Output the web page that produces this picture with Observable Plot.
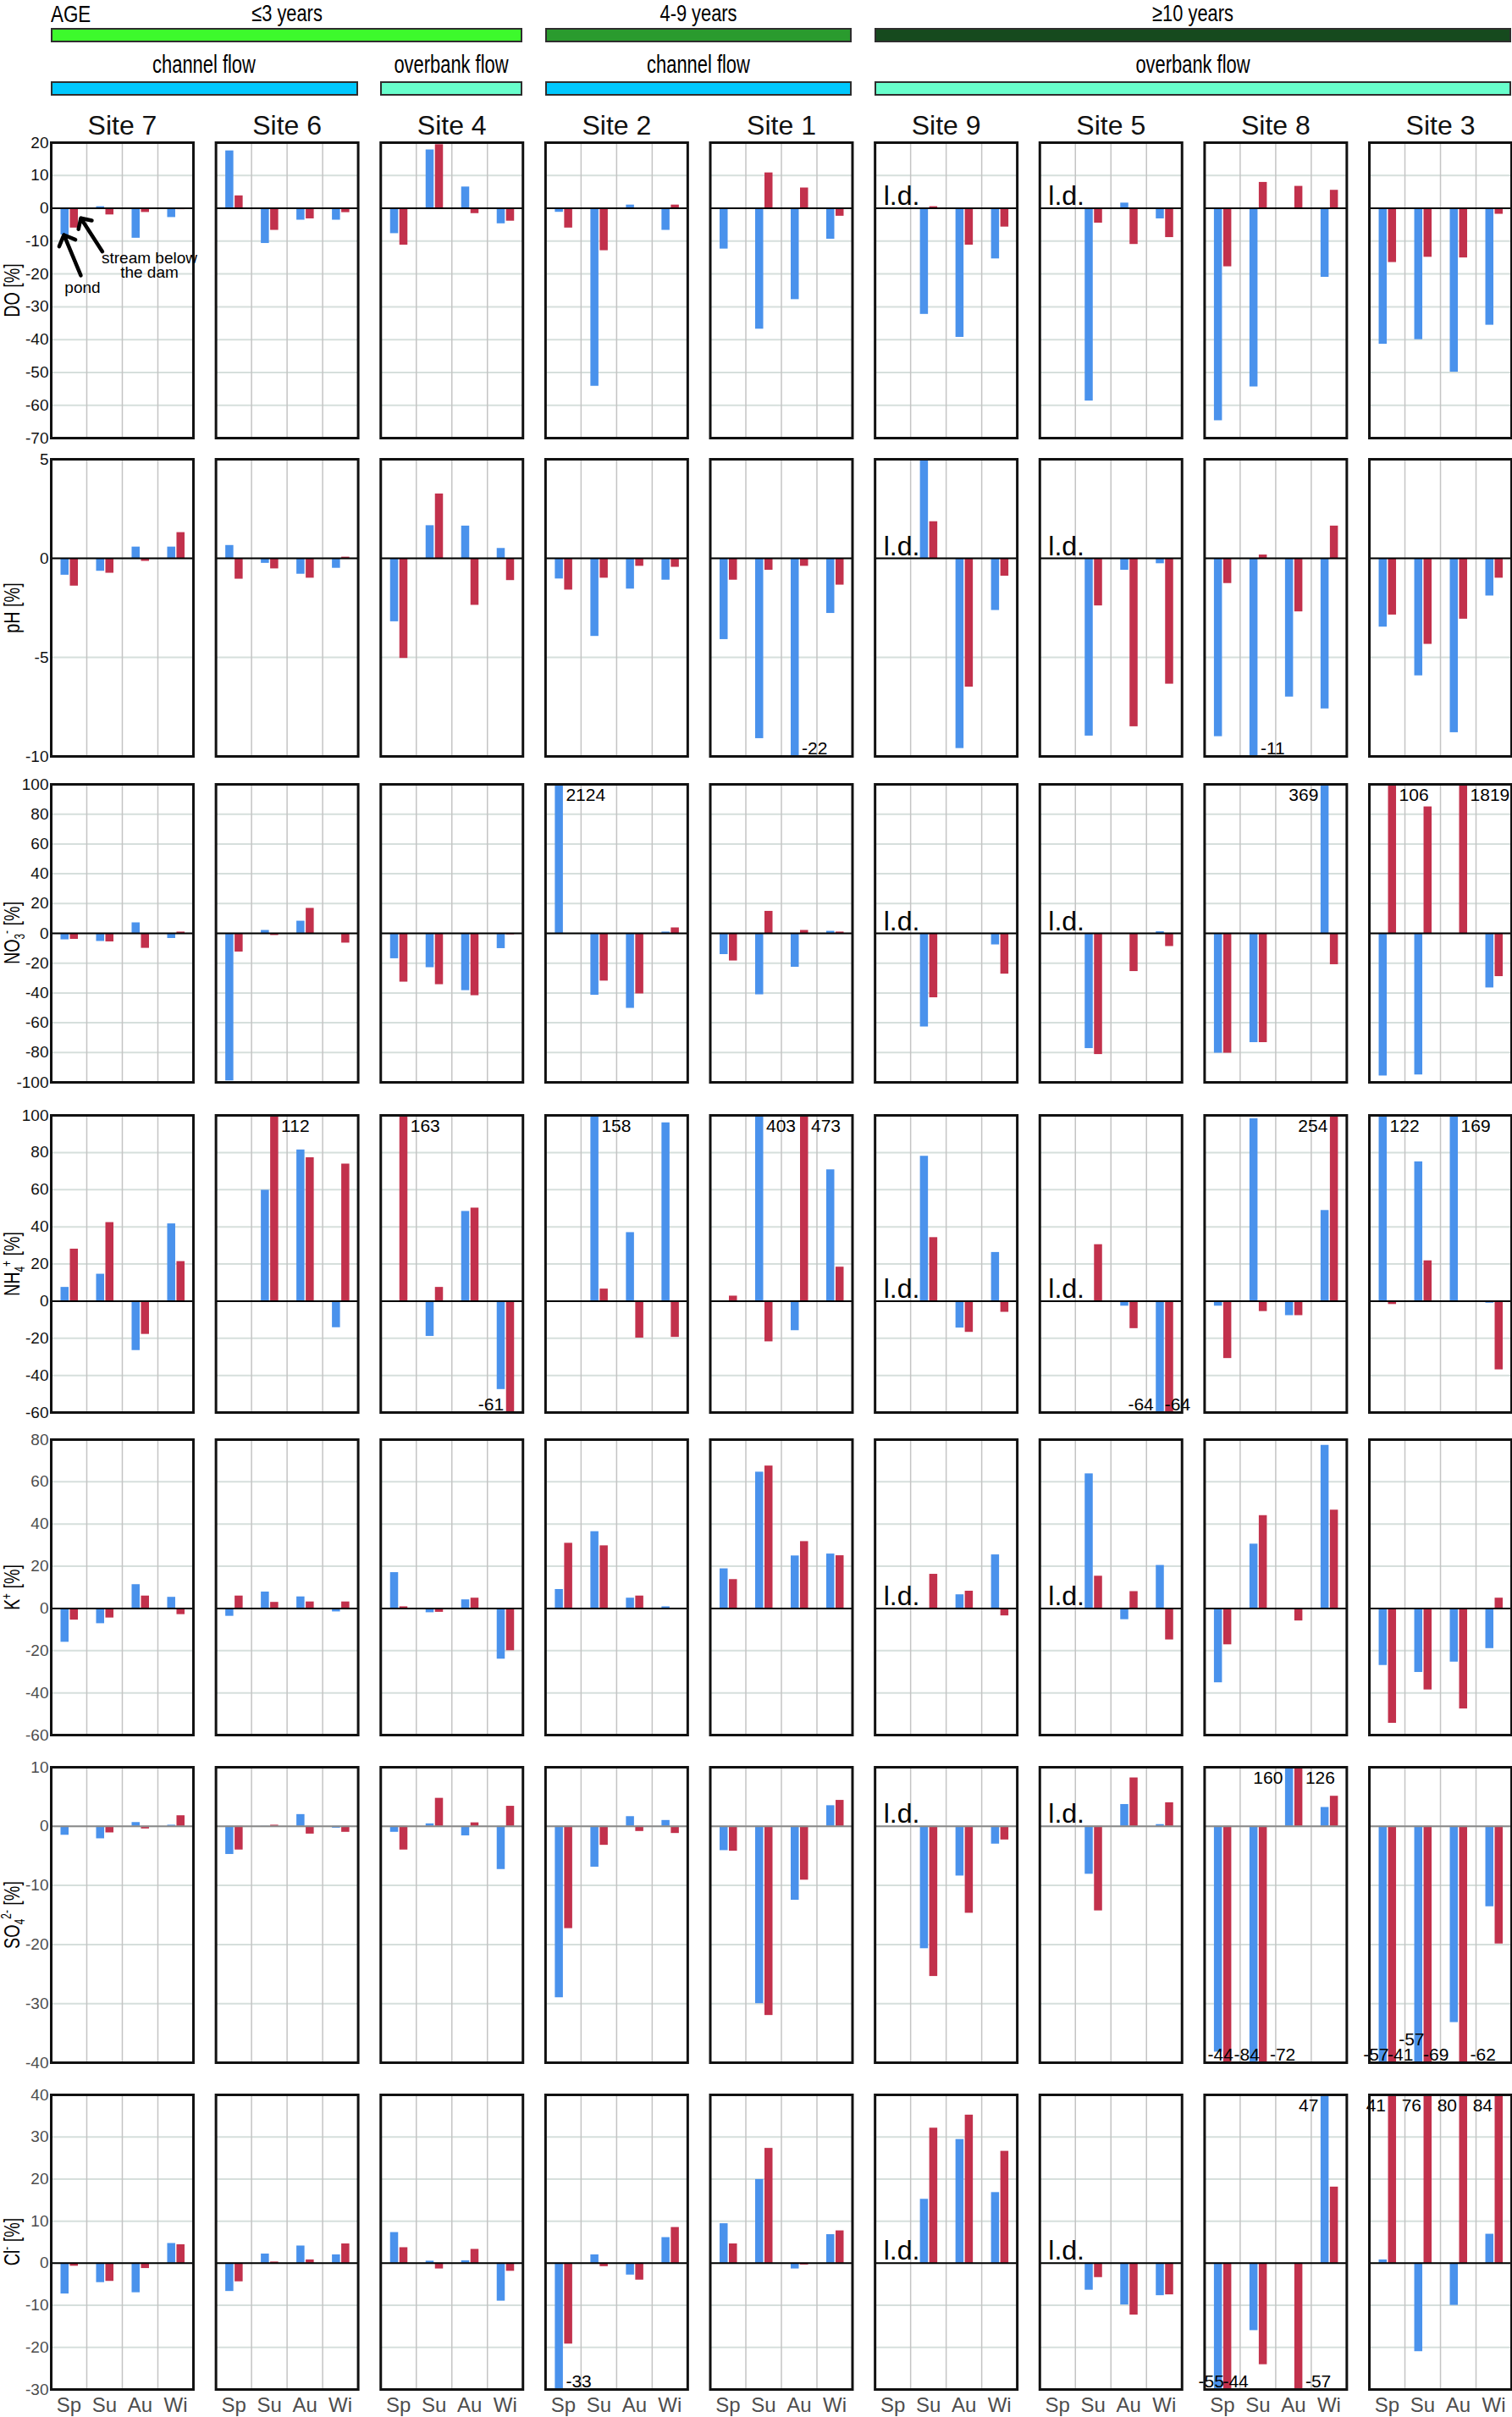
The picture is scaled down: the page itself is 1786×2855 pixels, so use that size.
<!DOCTYPE html>
<html><head><meta charset="utf-8">
<script src="https://cdn.jsdelivr.net/npm/d3@7"></script>
<script src="https://cdn.jsdelivr.net/npm/@observablehq/plot@0.6"></script>
<style>
html,body{margin:0;padding:0;background:#fff;}
#page{position:relative;width:1786px;height:2855px;font-family:"Liberation Sans",Arial,sans-serif;color:#000;overflow:hidden;}
.hdr{position:absolute;white-space:nowrap;line-height:1;}
.hbar{position:absolute;box-sizing:border-box;border:2.5px solid #2e2e2e;}
.ylab{position:absolute;white-space:nowrap;font-size:26px;line-height:1;transform:translate(-50%,-50%) rotate(-90deg) scaleX(0.76);}
.ylab sub,.ylab sup{font-size:0.6em;line-height:0;}
.row{position:absolute;left:0;}
</style></head><body><div id="page"></div>
<script>
// ---------- categories ----------
const sites = ["Site 7","Site 6","Site 4","Site 2","Site 1","Site 9","Site 5","Site 8","Site 3"];
const seasons = ["Sp","Su","Au","Wi"];
const ldSites = ["Site 9","Site 5"];
const ageGroups = [
  {label:"≤3 years", from:"Site 7", to:"Site 4", color:"#3dfa2c"},
  {label:"4-9 years", from:"Site 2", to:"Site 1", color:"#2a9b2e"},
  {label:"≥10 years", from:"Site 9", to:"Site 3", color:"#164a1e"}
];
const flowGroups = [
  {label:"channel flow", from:"Site 7", to:"Site 6", color:"#00c8fe"},
  {label:"overbank flow", from:"Site 4", to:"Site 4", color:"#68ffcc"},
  {label:"channel flow", from:"Site 2", to:"Site 1", color:"#00c8fe"},
  {label:"overbank flow", from:"Site 9", to:"Site 3", color:"#68ffcc"}
];

// ---------- values: one [Sp,Su,Au,Wi] list per site, pond (blue) and stream below the dam (red) ----------
const doPond = [[-8.1,0.5,-9.1,-2.8],[17.5,-10.7,-3.6,-3.6],[-7.7,17.8,6.5,-4.7],[-1.2,-54.2,1,-6.7],[-12.4,-36.8,-27.8,-9.4],[null,-32.3,-39.3,-15.4],[null,-58.7,1.6,-3.2],[-64.7,-54.4,null,-21],[-41.4,-40,-49.9,-35.6]];
const doStream = [[-6,-2,-1.25,-0.4],[3.8,-6.7,-3.2,-1.3],[-11.2,19.4,-1.6,-3.9],[-6,-12.9,-0.3,1],[-0.3,10.8,6.2,-2.4],[null,0.5,-11.2,-5.7],[null,-4.5,-11,-8.9],[-17.8,7.9,6.7,5.5],[-16.5,-14.9,-15.1,-1.8]];
const phPond = [[-0.85,-0.65,0.57,0.57],[0.65,-0.25,-0.8,-0.5],[-3.2,1.65,1.63,0.5],[-1.04,-3.94,-1.55,-1.1],[-4.1,-9.1,-22,-2.78],[null,5,-9.6,-2.63],[null,-8.97,-0.6,-0.27],[-9.0,-11,-7.0,-7.6],[-3.47,-5.93,-8.8,-1.9]];
const phStream = [[-1.4,-0.75,-0.15,1.3],[-1.05,-0.53,-1.0,0.06],[-5.05,3.25,-2.37,-1.12],[-1.6,-1.0,-0.4,-0.45],[-1.1,-0.6,-0.4,-1.35],[null,1.85,-6.5,-0.9],[null,-2.4,-8.5,-6.35],[-1.27,0.17,-2.7,1.63],[-2.86,-4.34,-3.07,-1.0]];
const no3Pond = [[-4.3,-5.4,7.1,-3.4],[-99,2,8.2,null],[-17,-23,-38.4,-10.2],[2124,-41.5,-50.3,0.9],[-14.2,-41.2,-22.7,1.4],[null,-62.8,null,-7.7],[null,-77.3,-0.5,1.1],[-80.4,-73.3,null,369],[-95.7,-95,null,-36.6]];
const no3Stream = [[-4,-5.7,-10,0.9],[-12.5,-1.4,16.8,-6.5],[-32.7,-34.4,-41.8,-0.9],[null,-32,-40.6,3.7],[-18.5,14.8,2,0.9],[null,-43.2,null,-27.3],[null,-81.3,-25.6,-8.8],[-80.4,-73.3,null,-21],[106,84.9,1819,-29]];
const nh4Pond = [[7.4,14.5,-26.6,41.6],[null,59.7,81.4,-14.3],[null,-19,48.3,-47.6],[null,158,36.9,96],[null,403,-15.9,70.7],[null,78,-14.5,26.2],[null,null,-2.7,-64],[-2.7,98.2,-7.8,48.8],[122,75,169,-1.1]];
const nh4Stream = [[28,42.3,-17.9,21.3],[null,112,77.2,73.8],[163,7.4,50.1,-61],[null,6.5,-19.9,-19.5],[2.7,-21.9,473,18.3],[null,34.2,-16.8,-6],[null,30.4,-14.8,-64],[-30.9,-5.6,-7.8,254],[-1.8,21.7,null,-37]];
const kPond = [[-16,-7.2,11.3,5.3],[-3.7,7.8,5.5,-1.6],[17,-2,4.1,-24],[9,36.4,4.9,0.8],[18.8,64.6,24.9,25.8],[null,null,6.5,25.4],[null,63.8,-5.3,20.4],[-35.2,30.5,null,77.3],[-27,-30.3,-25.4,-19]];
const kStream = [[-5.5,-4.5,5.9,-2.9],[5.9,2.9,3.1,3.1],[0.8,-1.8,4.9,-20],[30.9,29.7,5.9,-0.6],[13.7,67.5,31.7,25],[null,16.2,8.2,-3.5],[null,15.3,8,-14.9],[-17.2,44,-5.9,46.6],[-54.4,-38.6,-47.6,4.9]];
const so4Pond = [[-1.5,-2.1,0.65,0.2],[-4.75,-0.1,2,-0.3],[-1,0.43,-1.6,-7.3],[-29,-6.9,1.65,1],[-4.1,-30,-12.5,3.5],[null,-20.7,-8.4,-3],[null,-8.1,3.7,0.3],[-38.2,-84,160,3.2],[-57,-57,-33.2,-13.6]];
const so4Stream = [[null,-1.1,-0.43,1.8],[-4,0.2,-1.3,-1],[-4,4.75,0.6,3.4],[-17.3,-3.2,-0.86,-1.2],[-4.2,-32,-9.1,4.4],[null,-25.4,-14.7,-2.3],[null,-14.3,8.2,4],[-44,-72,126,5.1],[-41,-69,-62,-19.9]];
const clPond = [[-7.3,-4.6,-7,4.7],[-6.7,2.2,4.1,2],[7.3,0.5,0.6,-9],[-33,2,-2.8,6.1],[9.4,19.9,-1.35,6.8],[null,15.2,29.4,16.8],[null,-6.4,-9.9,-7.7],[-55,-16,null,47],[0.8,-21,-10,6.9]];
const clStream = [[-0.7,-4.3,-1.25,4.4],[-4.4,0.3,0.8,4.6],[3.7,-1.35,3.3,-1.9],[-19.2,-0.8,-4,8.5],[4.6,27.3,-0.4,7.7],[null,32.1,35.2,26.6],[null,-3.4,-12.3,-7.5],[-44,-24.1,-57,18.1],[41,76,80,84]];

// ---------- tick labels ----------
const doTicks = [-70,-60,-50,-40,-30,-20,-10,0,10,20];
const phTicks = [-10,-5,0,5];
const no3Ticks = [-100,-80,-60,-40,-20,0,20,40,60,80,100];
const nh4Ticks = [-60,-40,-20,0,20,40,60,80,100];
const kTicks = [-60,-40,-20,0,20,40,60,80];
const so4Ticks = [-40,-30,-20,-10,0,10];
const clTicks = [-30,-20,-10,0,10,20,30,40];

// off-scale bars that carry their value as a label: [parameter, site, season, series, side, raised]
const offscale = [
 ["pH","Site 1","Au","pond","r"],["pH","Site 8","Su","pond","r"],
 ["NO3","Site 2","Sp","pond","r"],["NO3","Site 8","Wi","pond","l"],["NO3","Site 3","Sp","stream","r"],["NO3","Site 3","Au","stream","r"],
 ["NH4","Site 6","Su","stream","r"],["NH4","Site 4","Sp","stream","r"],["NH4","Site 4","Wi","stream","l"],["NH4","Site 2","Su","pond","r"],
 ["NH4","Site 1","Su","pond","r"],["NH4","Site 1","Au","stream","r"],["NH4","Site 5","Wi","pond","l"],["NH4","Site 5","Wi","stream","o"],
 ["NH4","Site 8","Wi","stream","l"],["NH4","Site 3","Sp","pond","r"],["NH4","Site 3","Au","pond","r"],
 ["SO4","Site 8","Sp","stream","e"],["SO4","Site 8","Su","pond","e"],["SO4","Site 8","Su","stream","r"],["SO4","Site 8","Au","pond","l"],["SO4","Site 8","Au","stream","r"],
 ["SO4","Site 3","Sp","pond","e"],["SO4","Site 3","Sp","stream","o"],["SO4","Site 3","Su","pond","e",true],["SO4","Site 3","Su","stream","o"],["SO4","Site 3","Au","stream","r"],
 ["Cl","Site 2","Sp","pond","r"],["Cl","Site 8","Sp","pond","e"],["Cl","Site 8","Sp","stream","o"],["Cl","Site 8","Au","stream","r"],["Cl","Site 8","Wi","pond","l"],
 ["Cl","Site 3","Sp","stream","l"],["Cl","Site 3","Su","stream","l"],["Cl","Site 3","Au","stream","l"],["Cl","Site 3","Wi","stream","l"]
];

const params = [
 {key:"DO", label:"DO [%]", pond:doPond, stream:doStream, domain:[-70,20], ticks:doTicks, top:168, h:349, zero:"#000", tick:"#111"},
 {key:"pH", label:"pH [%]", pond:phPond, stream:phStream, domain:[-10,5], ticks:phTicks, top:542, h:351, zero:"#000", tick:"#111"},
 {key:"NO3", label:"NO<sub>3</sub><sup>-</sup> [%]", pond:no3Pond, stream:no3Stream, domain:[-100,100], ticks:no3Ticks, top:926, h:352, zero:"#000", tick:"#111"},
 {key:"NH4", label:"NH<sub>4</sub><sup>+</sup> [%]", pond:nh4Pond, stream:nh4Stream, domain:[-60,100], ticks:nh4Ticks, top:1317, h:351, zero:"#000", tick:"#111"},
 {key:"K", label:"K<sup>+</sup> [%]", pond:kPond, stream:kStream, domain:[-60,80], ticks:kTicks, top:1700, h:349, zero:"#000", tick:"#4d4d4d"},
 {key:"SO4", label:"SO<sub>4</sub><sup>2-</sup> [%]", pond:so4Pond, stream:so4Stream, domain:[-40,10], ticks:so4Ticks, top:2087, h:349, zero:"#8a8a8a", tick:"#4d4d4d"},
 {key:"Cl", label:"Cl<sup>-</sup> [%]", pond:clPond, stream:clStream, domain:[-30,40], ticks:clTicks, top:2474, h:348, zero:"#000", tick:"#4d4d4d"}
];

// ---------- layout ----------
const W = 1786, ML = 60, MR = 1, PAD = 0.137;
const step = (W - ML - MR) / (sites.length - PAD);
const facetW = step * (1 - PAD);
const bw = facetW / seasons.length;
const blue = "#4a92ec", red = "#c2314c";
const inset = {pond:[11.5, 21], stream:[22.5, 32]};
const edge = s => [inset[s][0] - bw/2, inset[s][1] - bw/2];
const sideCfg = {
  r: ([L,R]) => ({dx: R + 3, textAnchor: "start"}),
  l: ([L,R]) => ({dx: L - 3, textAnchor: "end"}),
  o: ([L,R]) => ({dx: L - 1, textAnchor: "start"}),
  e: ([L,R]) => ({dx: R + 2, textAnchor: "end"})
};
const FONT = '"Liberation Sans", Arial, sans-serif';
const page = document.getElementById("page");

function condense(root, label, s) {
  root.querySelectorAll(`g[aria-label="${label}"] text`).forEach(t => {
    const tr = t.getAttribute("transform") || "";
    const x = parseFloat(t.getAttribute("x")) || 0;
    t.setAttribute("transform", `${tr} translate(${x},0) scale(${s},1) translate(${-x},0)`);
  });
}

let chart1 = null;
params.forEach((p, i) => {
  const first = i === 0, last = i === params.length - 1;
  const mt = first ? 50 : 14, mb = last ? 44 : 14;
  const data = [];
  sites.forEach((s, si) => seasons.forEach((se, k) => {
    const a = p.pond[si][k], b = p.stream[si][k];
    if (a != null) data.push({site:s, season:se, series:"pond", value:a});
    if (b != null) data.push({site:s, season:se, series:"stream", value:b});
  }));
  const labs = offscale.filter(o => o[0] === p.key).map(o => {
    const si = sites.indexOf(o[1]), k = seasons.indexOf(o[2]);
    return {site:o[1], season:o[2], series:o[3], side:o[4], raised:!!o[5], value:(o[3] === "pond" ? p.pond : p.stream)[si][k]};
  });
  const groups = d3.groups(labs, d => `${d.series}|${d.side}|${d.value > 0}|${d.raised}`);
  const labelMarks = groups.map(([key, arr]) => {
    const d0 = arr[0];
    const cfg = sideCfg[d0.side](edge(d0.series));
    return Plot.text(arr, {fx:"site", x:"season", y: d => d.value > 0 ? p.domain[1] : p.domain[0],
      text: d => String(d.value), dx: cfg.dx, textAnchor: cfg.textAnchor,
      dy: d0.value > 0 ? 13 : (d0.raised ? -27 : -9), lineAnchor:"middle", fontSize: 21, fill:"#000", ariaLabel:"offscale"});
  });
  const marks = [
    Plot.ruleY(p.ticks, {y: d => d, stroke:"#d6dfdc", strokeWidth:2}),
    Plot.ruleX(seasons.slice(1), {x: d => d, dx: -bw/2, stroke:"#c4c4c4", strokeWidth:1.5}),
    Plot.barY(data.filter(d => d.series === "pond"), {fx:"site", x:"season", y1:0, y2:"value", fill:blue, insetLeft:inset.pond[0], insetRight:bw - inset.pond[1]}),
    Plot.barY(data.filter(d => d.series === "stream"), {fx:"site", x:"season", y1:0, y2:"value", fill:red, insetLeft:inset.stream[0], insetRight:bw - inset.stream[1]}),
    Plot.ruleY([0], {y: d => d, stroke:p.zero, strokeWidth:2}),
    ...labelMarks,
    Plot.text(ldSites.map(s => ({site:s})), {fx:"site", x:() => "Sp", y:() => 0, text:() => "l.d.", dx:-bw/2 + 10, dy:-4, textAnchor:"start", lineAnchor:"bottom", fontSize:32, fill:"#000", ariaLabel:"ld"}),
    Plot.frame({stroke:"#111", strokeWidth:3}),
    Plot.axisY({anchor:"left", ticks:p.ticks, tickFormat:d => String(d), tickSize:0, tickPadding:3, fontSize:19, label:null, ariaLabel:"y-axis tick label"})
  ];
  if (first) {
    const notes = [{site:"Site 7", season:"Sp", pond:doPond[0][0], stream:doStream[0][0]}];
    marks.push(
      Plot.vector(notes, {fx:"site", x:"season", y:"pond", dx:-6, length:52, rotate:-22.6, anchor:"end", shape:"arrow", stroke:"#000", strokeWidth:4.5}),
      Plot.vector(notes, {fx:"site", x:"season", y:d => d.stream / 2, dx:14, length:47, rotate:-32.8, anchor:"end", shape:"arrow", stroke:"#000", strokeWidth:4.5}),
      Plot.text(notes, {fx:"site", x:"season", y:d => d.pond * 3, text:() => "pond", dx:16, fontSize:19, fill:"#000", ariaLabel:"note"}),
      Plot.text(notes, {fx:"site", x:"season", y:d => d.pond * 2.17, text:() => "stream below\nthe dam", dx:95, fontSize:19, lineHeight:0.9, fill:"#000", ariaLabel:"note"}),
      Plot.axisFx({anchor:"top", tickSize:0, tickPadding:10, fontSize:32, label:null, ariaLabel:"fx-axis tick label"})
    );
  }
  if (last) {
    marks.push(Plot.axisX({anchor:"bottom", tickSize:0, tickPadding:9, fontSize:24, label:null, ariaLabel:"x-axis tick label"}));
  }
  const chart = Plot.plot({
    width: W, height: p.h + mt + mb,
    marginLeft: ML, marginRight: MR, marginTop: mt, marginBottom: mb,
    fx: {domain: sites, paddingInner: PAD, paddingOuter: 0, round: false, axis: null},
    x: {domain: seasons, paddingInner: 0, paddingOuter: 0, round: false, axis: null},
    y: {domain: p.domain, clamp: true, axis: null},
    style: {fontFamily: FONT, fontSize: "19px", color: p.tick, background: "transparent", overflow: "visible"},
    marks
  });
  condense(chart, "y-axis tick label", 0.88);
  condense(chart, "fx-axis tick label", 0.7);
  condense(chart, "x-axis tick label", 0.85);
  condense(chart, "offscale", 0.88);
  condense(chart, "ld", 0.72);
  condense(chart, "note", 0.84);
  const div = document.createElement("div");
  div.className = "row";
  div.style.top = (p.top - mt) + "px";
  div.appendChild(chart);
  page.appendChild(div);
  const yl = document.createElement("div");
  yl.className = "ylab";
  yl.style.left = "14px";
  yl.style.top = (p.top + p.h / 2) + "px";
  yl.innerHTML = p.label;
  page.appendChild(yl);
  if (first) chart1 = chart;
});

// ---------- header bars from the facet scale ----------
const fxs = chart1.scale("fx");
const fbw = fxs.bandwidth;
function addHeader(groups, barTop, textTop, size, sx) {
  groups.forEach(g => {
    const x0 = fxs.apply(g.from), x1 = fxs.apply(g.to) + fbw;
    const b = document.createElement("div");
    b.className = "hbar";
    Object.assign(b.style, {left: x0 + "px", width: (x1 - x0) + "px", top: barTop + "px", height: "16.5px", background: g.color});
    page.appendChild(b);
    const t = document.createElement("div");
    t.className = "hdr";
    Object.assign(t.style, {left: ((x0 + x1) / 2) + "px", top: textTop + "px", fontSize: size + "px", transform: `translateX(-50%) scaleX(${sx})`});
    t.textContent = g.label;
    page.appendChild(t);
  });
}
addHeader(ageGroups, 33, 2, 28, 0.78);
addHeader(flowGroups, 96, 61, 30, 0.73);
const age = document.createElement("div");
age.className = "hdr";
Object.assign(age.style, {left: fxs.apply(sites[0]) + "px", top: "3px", fontSize: "28px", transform: "scaleX(0.8)", transformOrigin: "left center"});
age.textContent = "AGE";
page.appendChild(age);
</script></body></html>
